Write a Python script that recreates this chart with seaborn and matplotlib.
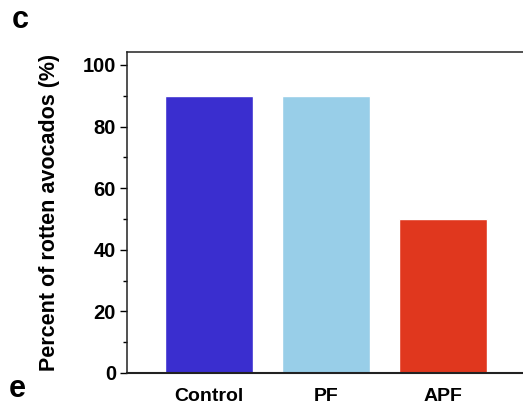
import matplotlib
matplotlib.use('Agg')
import matplotlib.pyplot as plt
import seaborn as sns
import pandas as pd
from matplotlib.ticker import MultipleLocator

# Dati
groups = ['Control', 'PF', 'APF']
rotten_pct = [90, 90, 50]
bar_colors = ['#3A2ECF', '#98CEE8', '#E0371E']

df = pd.DataFrame({'Group': groups, 'Percent': rotten_pct})

sns.set_style('ticks')
plt.rcParams['font.family'] = ['Liberation Sans', 'DejaVu Sans']
plt.rcParams['text.color'] = 'black'
plt.rcParams['axes.labelcolor'] = 'black'
plt.rcParams['xtick.color'] = 'black'
plt.rcParams['ytick.color'] = 'black'

fig = plt.figure(figsize=(5.23, 4.13), dpi=100)
ax = fig.add_axes([0.243, 0.097, 0.76, 0.777])

sns.barplot(data=df, x='Group', y='Percent', hue='Group', palette=bar_colors,
            width=0.75, legend=False, ax=ax, saturation=1)

ax.set_xlim(-0.7, 2.7)
ax.set_ylim(0, 104.2)
ax.yaxis.set_major_locator(MultipleLocator(20))
ax.yaxis.set_minor_locator(MultipleLocator(10))
ax.tick_params(axis='y', which='major', direction='out', length=5, width=1,
               labelsize=14.5, pad=3)
ax.tick_params(axis='y', which='minor', direction='out', length=3, width=1)
ax.tick_params(axis='x', length=0, labelsize=14, pad=11)
for lab in ax.get_xticklabels() + ax.get_yticklabels():
    lab.set_fontweight('bold')

for side in ['left', 'bottom', 'top']:
    ax.spines[side].set_color('#222222')
    ax.spines[side].set_linewidth(1.1)
ax.spines['right'].set_visible(False)
ax.spines['bottom'].set_linewidth(1.5)

ax.set_xlabel('')
ax.set_ylabel('Percent of rotten avocados (%)', fontsize=15.5, fontweight='bold', labelpad=16)

fig.text(0.022, 0.952, 'c', fontsize=22, fontweight='bold', va='center', ha='left')
fig.text(0.017, 0.058, 'e', fontsize=22, fontweight='bold', va='center', ha='left')

fig.savefig('out.png', dpi=100)
